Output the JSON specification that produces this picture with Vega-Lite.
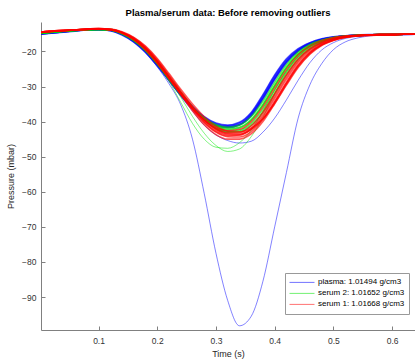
{
  "$schema": "https://vega.github.io/schema/vega-lite/v6.json",
  "width": 374,
  "height": 308,
  "autosize": {"type": "none"},
  "padding": {"left": 41, "top": 22, "right": 0, "bottom": 30},
  "background": "white",
  "config": {
    "view": {"stroke": null},
    "font": "Liberation Sans",
    "axis": {
      "grid": false,
      "domainColor": "#808080",
      "domainWidth": 1,
      "tickColor": "#808080",
      "tickWidth": 1,
      "tickSize": -4,
      "labelFont": "Liberation Sans",
      "labelFontSize": 8.5,
      "labelColor": "#333333",
      "titleFont": "Liberation Sans",
      "titleFontSize": 9,
      "titleFontWeight": "normal",
      "titleColor": "#262626"
    }
  },
  "title": {
    "text": "Plasma/serum data: Before removing outliers",
    "font": "Liberation Sans",
    "fontSize": 9.5,
    "fontWeight": "bold",
    "color": "#000000",
    "anchor": "middle",
    "offset": 5
  },
  "datasets": {
    "plasma": [
      {"t":0.00,"b1":-14.9,"b2":-15.0,"b3":-15.1,"b4":-14.8,"b5":-15.0},
      {"t":0.02,"b1":-14.6,"b2":-14.7,"b3":-14.8,"b4":-14.5,"b5":-14.7},
      {"t":0.04,"b1":-14.3,"b2":-14.4,"b3":-14.5,"b4":-14.3,"b5":-14.4},
      {"t":0.06,"b1":-14.0,"b2":-14.1,"b3":-14.2,"b4":-14.0,"b5":-14.1},
      {"t":0.08,"b1":-13.8,"b2":-13.9,"b3":-13.9,"b4":-13.8,"b5":-13.9},
      {"t":0.10,"b1":-13.7,"b2":-13.8,"b3":-13.8,"b4":-13.7,"b5":-13.8},
      {"t":0.12,"b1":-13.9,"b2":-14.1,"b3":-14.0,"b4":-13.9,"b5":-14.0},
      {"t":0.14,"b1":-15.0,"b2":-15.3,"b3":-15.1,"b4":-15.0,"b5":-15.2},
      {"t":0.16,"b1":-16.9,"b2":-17.3,"b3":-17.1,"b4":-16.8,"b5":-17.2},
      {"t":0.18,"b1":-19.8,"b2":-20.3,"b3":-20.0,"b4":-19.6,"b5":-20.1},
      {"t":0.20,"b1":-23.6,"b2":-24.1,"b3":-23.8,"b4":-23.4,"b5":-24.0},
      {"t":0.22,"b1":-27.8,"b2":-28.3,"b3":-28.0,"b4":-27.6,"b5":-28.2},
      {"t":0.24,"b1":-32.0,"b2":-32.5,"b3":-32.2,"b4":-31.8,"b5":-32.4},
      {"t":0.26,"b1":-35.8,"b2":-36.3,"b3":-36.0,"b4":-35.6,"b5":-36.2},
      {"t":0.28,"b1":-38.8,"b2":-39.3,"b3":-39.0,"b4":-38.6,"b5":-39.2},
      {"t":0.30,"b1":-40.6,"b2":-41.1,"b3":-40.8,"b4":-40.4,"b5":-41.0},
      {"t":0.32,"b1":-41.2,"b2":-41.7,"b3":-41.4,"b4":-41.0,"b5":-41.6},
      {"t":0.34,"b1":-40.4,"b2":-41.0,"b3":-40.8,"b4":-40.2,"b5":-40.9},
      {"t":0.36,"b1":-37.6,"b2":-38.4,"b3":-38.0,"b4":-37.4,"b5":-38.2},
      {"t":0.38,"b1":-32.6,"b2":-33.6,"b3":-33.1,"b4":-32.3,"b5":-33.3},
      {"t":0.40,"b1":-27.0,"b2":-28.0,"b3":-27.5,"b4":-26.7,"b5":-27.8},
      {"t":0.42,"b1":-22.4,"b2":-23.2,"b3":-22.8,"b4":-22.1,"b5":-23.0},
      {"t":0.44,"b1":-19.4,"b2":-19.9,"b3":-19.6,"b4":-19.2,"b5":-19.8},
      {"t":0.46,"b1":-17.6,"b2":-17.9,"b3":-17.7,"b4":-17.5,"b5":-17.8},
      {"t":0.48,"b1":-16.5,"b2":-16.7,"b3":-16.6,"b4":-16.4,"b5":-16.6},
      {"t":0.50,"b1":-15.9,"b2":-16.0,"b3":-16.0,"b4":-15.8,"b5":-16.0},
      {"t":0.52,"b1":-15.6,"b2":-15.6,"b3":-15.6,"b4":-15.5,"b5":-15.6},
      {"t":0.54,"b1":-15.4,"b2":-15.4,"b3":-15.4,"b4":-15.3,"b5":-15.4},
      {"t":0.56,"b1":-15.3,"b2":-15.3,"b3":-15.3,"b4":-15.2,"b5":-15.3},
      {"t":0.58,"b1":-15.2,"b2":-15.2,"b3":-15.2,"b4":-15.2,"b5":-15.2},
      {"t":0.60,"b1":-15.2,"b2":-15.2,"b3":-15.2,"b4":-15.1,"b5":-15.2},
      {"t":0.62,"b1":-15.1,"b2":-15.2,"b3":-15.1,"b4":-15.1,"b5":-15.1},
      {"t":0.64,"b1":-15.1,"b2":-15.1,"b3":-15.1,"b4":-15.1,"b5":-15.1}
    ],
    "plasma_outliers": [
      {"t":0.00,"b6":-15.0,"b7":-15.1},
      {"t":0.02,"b6":-14.7,"b7":-14.8},
      {"t":0.04,"b6":-14.4,"b7":-14.5},
      {"t":0.06,"b6":-14.1,"b7":-14.2},
      {"t":0.08,"b6":-13.9,"b7":-13.9},
      {"t":0.10,"b6":-13.8,"b7":-13.8},
      {"t":0.12,"b6":-14.0,"b7":-14.0},
      {"t":0.14,"b6":-15.2,"b7":-15.1},
      {"t":0.16,"b6":-17.3,"b7":-17.1},
      {"t":0.18,"b6":-20.3,"b7":-20.0},
      {"t":0.20,"b6":-24.4,"b7":-23.9},
      {"t":0.22,"b6":-29.2,"b7":-28.4},
      {"t":0.24,"b6":-35.2,"b7":-32.8},
      {"t":0.26,"b6":-45.0,"b7":-37.0},
      {"t":0.28,"b6":-60.5,"b7":-41.0},
      {"t":0.30,"b6":-77.5,"b7":-43.8},
      {"t":0.32,"b6":-91.0,"b7":-45.4},
      {"t":0.34,"b6":-98.2,"b7":-46.1},
      {"t":0.36,"b6":-95.5,"b7":-45.6},
      {"t":0.38,"b6":-85.5,"b7":-43.0},
      {"t":0.40,"b6":-70.0,"b7":-39.0},
      {"t":0.42,"b6":-54.5,"b7":-33.8},
      {"t":0.44,"b6":-39.0,"b7":-28.2},
      {"t":0.46,"b6":-29.5,"b7":-23.2},
      {"t":0.48,"b6":-23.5,"b7":-19.6},
      {"t":0.50,"b6":-19.5,"b7":-17.5},
      {"t":0.52,"b6":-17.3,"b7":-16.3},
      {"t":0.54,"b6":-16.2,"b7":-15.7},
      {"t":0.56,"b6":-15.6,"b7":-15.4},
      {"t":0.58,"b6":-15.3,"b7":-15.3},
      {"t":0.60,"b6":-15.2,"b7":-15.2},
      {"t":0.62,"b6":-15.1,"b7":-15.1},
      {"t":0.64,"b6":-15.1,"b7":-15.1}
    ],
    "serum2": [
      {"t":0.00,"g1":-14.8,"g2":-14.9,"g3":-14.8,"g4":-14.8,"g5":-14.7},
      {"t":0.02,"g1":-14.5,"g2":-14.6,"g3":-14.5,"g4":-14.5,"g5":-14.4},
      {"t":0.04,"g1":-14.2,"g2":-14.3,"g3":-14.2,"g4":-14.2,"g5":-14.2},
      {"t":0.06,"g1":-14.0,"g2":-14.0,"g3":-14.0,"g4":-14.0,"g5":-13.9},
      {"t":0.08,"g1":-13.8,"g2":-13.8,"g3":-13.8,"g4":-13.8,"g5":-13.7},
      {"t":0.10,"g1":-13.7,"g2":-13.7,"g3":-13.7,"g4":-13.7,"g5":-13.6},
      {"t":0.12,"g1":-13.9,"g2":-13.9,"g3":-13.8,"g4":-13.9,"g5":-13.7},
      {"t":0.14,"g1":-14.9,"g2":-15.0,"g3":-14.8,"g4":-14.9,"g5":-14.7},
      {"t":0.16,"g1":-16.7,"g2":-16.9,"g3":-16.5,"g4":-16.8,"g5":-16.4},
      {"t":0.18,"g1":-19.5,"g2":-19.8,"g3":-19.3,"g4":-19.6,"g5":-19.1},
      {"t":0.20,"g1":-23.3,"g2":-23.6,"g3":-23.0,"g4":-23.4,"g5":-22.8},
      {"t":0.22,"g1":-27.6,"g2":-27.9,"g3":-27.3,"g4":-27.7,"g5":-27.1},
      {"t":0.24,"g1":-31.9,"g2":-32.1,"g3":-31.7,"g4":-32.0,"g5":-31.6},
      {"t":0.26,"g1":-35.9,"g2":-35.9,"g3":-35.9,"g4":-35.9,"g5":-35.9},
      {"t":0.28,"g1":-39.2,"g2":-39.0,"g3":-39.4,"g4":-39.1,"g5":-39.5},
      {"t":0.30,"g1":-41.4,"g2":-40.9,"g3":-41.8,"g4":-41.2,"g5":-42.0},
      {"t":0.32,"g1":-42.3,"g2":-41.6,"g3":-42.8,"g4":-42.0,"g5":-43.0},
      {"t":0.34,"g1":-41.8,"g2":-41.0,"g3":-42.5,"g4":-41.6,"g5":-42.9},
      {"t":0.36,"g1":-39.6,"g2":-38.6,"g3":-40.5,"g4":-39.4,"g5":-41.1},
      {"t":0.38,"g1":-35.3,"g2":-34.2,"g3":-36.4,"g4":-35.1,"g5":-37.3},
      {"t":0.40,"g1":-29.8,"g2":-28.8,"g3":-31.0,"g4":-29.7,"g5":-32.0},
      {"t":0.42,"g1":-24.6,"g2":-23.8,"g3":-25.7,"g4":-24.6,"g5":-26.6},
      {"t":0.44,"g1":-20.7,"g2":-20.2,"g3":-21.5,"g4":-20.8,"g5":-22.2},
      {"t":0.46,"g1":-18.3,"g2":-18.0,"g3":-18.8,"g4":-18.4,"g5":-19.3},
      {"t":0.48,"g1":-16.9,"g2":-16.8,"g3":-17.2,"g4":-17.0,"g5":-17.5},
      {"t":0.50,"g1":-16.1,"g2":-16.0,"g3":-16.3,"g4":-16.2,"g5":-16.5},
      {"t":0.52,"g1":-15.7,"g2":-15.6,"g3":-15.8,"g4":-15.7,"g5":-15.9},
      {"t":0.54,"g1":-15.4,"g2":-15.4,"g3":-15.5,"g4":-15.4,"g5":-15.5},
      {"t":0.56,"g1":-15.3,"g2":-15.3,"g3":-15.3,"g4":-15.3,"g5":-15.3},
      {"t":0.58,"g1":-15.2,"g2":-15.2,"g3":-15.2,"g4":-15.2,"g5":-15.2},
      {"t":0.60,"g1":-15.2,"g2":-15.2,"g3":-15.2,"g4":-15.2,"g5":-15.2},
      {"t":0.62,"g1":-15.1,"g2":-15.1,"g3":-15.1,"g4":-15.1,"g5":-15.1},
      {"t":0.64,"g1":-15.1,"g2":-15.1,"g3":-15.1,"g4":-15.1,"g5":-15.1}
    ],
    "serum2_outliers": [
      {"t":0.00,"g6":-14.9,"g7":-14.8},
      {"t":0.02,"g6":-14.6,"g7":-14.5},
      {"t":0.04,"g6":-14.3,"g7":-14.2},
      {"t":0.06,"g6":-14.0,"g7":-14.0},
      {"t":0.08,"g6":-13.8,"g7":-13.8},
      {"t":0.10,"g6":-13.7,"g7":-13.7},
      {"t":0.12,"g6":-13.9,"g7":-13.9},
      {"t":0.14,"g6":-15.0,"g7":-14.9},
      {"t":0.16,"g6":-16.9,"g7":-16.8},
      {"t":0.18,"g6":-19.8,"g7":-19.6},
      {"t":0.20,"g6":-23.6,"g7":-23.4},
      {"t":0.22,"g6":-28.5,"g7":-28.0},
      {"t":0.24,"g6":-34.5,"g7":-33.0},
      {"t":0.26,"g6":-40.5,"g7":-38.5},
      {"t":0.28,"g6":-45.0,"g7":-43.3},
      {"t":0.30,"g6":-47.3,"g7":-46.8},
      {"t":0.32,"g6":-47.6,"g7":-48.5},
      {"t":0.34,"g6":-46.0,"g7":-47.8},
      {"t":0.36,"g6":-42.5,"g7":-44.3},
      {"t":0.38,"g6":-37.0,"g7":-38.8},
      {"t":0.40,"g6":-31.0,"g7":-32.0},
      {"t":0.42,"g6":-25.5,"g7":-26.0},
      {"t":0.44,"g6":-21.3,"g7":-21.5},
      {"t":0.46,"g6":-18.6,"g7":-18.7},
      {"t":0.48,"g6":-17.1,"g7":-17.1},
      {"t":0.50,"g6":-16.2,"g7":-16.2},
      {"t":0.52,"g6":-15.7,"g7":-15.7},
      {"t":0.54,"g6":-15.4,"g7":-15.4},
      {"t":0.56,"g6":-15.3,"g7":-15.3},
      {"t":0.58,"g6":-15.2,"g7":-15.2},
      {"t":0.60,"g6":-15.2,"g7":-15.2},
      {"t":0.62,"g6":-15.1,"g7":-15.1},
      {"t":0.64,"g6":-15.1,"g7":-15.1}
    ],
    "serum1": [
      {"t":0.00,"r1":-14.6,"r2":-14.5,"r3":-14.6,"r4":-14.5,"r5":-14.6,"r6":-14.5,"r7":-14.6,"r8":-14.5},
      {"t":0.02,"r1":-14.3,"r2":-14.2,"r3":-14.3,"r4":-14.2,"r5":-14.3,"r6":-14.2,"r7":-14.3,"r8":-14.2},
      {"t":0.04,"r1":-14.1,"r2":-14.0,"r3":-14.1,"r4":-14.0,"r5":-14.1,"r6":-14.0,"r7":-14.1,"r8":-14.0},
      {"t":0.06,"r1":-13.9,"r2":-13.8,"r3":-13.9,"r4":-13.8,"r5":-13.9,"r6":-13.8,"r7":-13.9,"r8":-13.8},
      {"t":0.08,"r1":-13.7,"r2":-13.7,"r3":-13.7,"r4":-13.6,"r5":-13.7,"r6":-13.6,"r7":-13.7,"r8":-13.6},
      {"t":0.10,"r1":-13.6,"r2":-13.6,"r3":-13.6,"r4":-13.5,"r5":-13.6,"r6":-13.5,"r7":-13.6,"r8":-13.5},
      {"t":0.12,"r1":-13.8,"r2":-13.8,"r3":-13.8,"r4":-13.7,"r5":-13.7,"r6":-13.7,"r7":-13.8,"r8":-13.6},
      {"t":0.14,"r1":-14.8,"r2":-14.7,"r3":-14.7,"r4":-14.6,"r5":-14.6,"r6":-14.5,"r7":-14.7,"r8":-14.4},
      {"t":0.16,"r1":-16.7,"r2":-16.5,"r3":-16.4,"r4":-16.3,"r5":-16.3,"r6":-16.1,"r7":-16.5,"r8":-16.0},
      {"t":0.18,"r1":-19.6,"r2":-19.3,"r3":-19.1,"r4":-19.0,"r5":-19.0,"r6":-18.7,"r7":-19.3,"r8":-18.5},
      {"t":0.20,"r1":-23.4,"r2":-23.1,"r3":-22.8,"r4":-22.7,"r5":-22.8,"r6":-22.3,"r7":-23.1,"r8":-22.0},
      {"t":0.22,"r1":-27.8,"r2":-27.5,"r3":-27.2,"r4":-27.2,"r5":-27.4,"r6":-26.7,"r7":-27.6,"r8":-26.3},
      {"t":0.24,"r1":-32.1,"r2":-31.9,"r3":-31.7,"r4":-31.8,"r5":-32.2,"r6":-31.3,"r7":-32.2,"r8":-30.8},
      {"t":0.26,"r1":-36.0,"r2":-36.0,"r3":-36.0,"r4":-36.3,"r5":-36.9,"r6":-35.7,"r7":-36.5,"r8":-35.0},
      {"t":0.28,"r1":-39.4,"r2":-39.5,"r3":-39.7,"r4":-40.2,"r5":-40.9,"r6":-39.4,"r7":-40.2,"r8":-38.6},
      {"t":0.30,"r1":-41.7,"r2":-42.0,"r3":-42.4,"r4":-43.0,"r5":-43.7,"r6":-42.1,"r7":-42.8,"r8":-41.3},
      {"t":0.32,"r1":-42.6,"r2":-43.2,"r3":-43.7,"r4":-44.3,"r5":-45.0,"r6":-43.4,"r7":-44.0,"r8":-42.7},
      {"t":0.34,"r1":-42.2,"r2":-43.1,"r3":-43.8,"r4":-44.4,"r5":-45.0,"r6":-43.5,"r7":-43.8,"r8":-42.9},
      {"t":0.36,"r1":-40.0,"r2":-41.2,"r3":-42.2,"r4":-42.9,"r5":-43.5,"r6":-42.3,"r7":-41.9,"r8":-41.9},
      {"t":0.38,"r1":-35.8,"r2":-37.3,"r3":-38.6,"r4":-39.4,"r5":-40.0,"r6":-39.2,"r7":-38.0,"r8":-39.2},
      {"t":0.40,"r1":-30.4,"r2":-32.0,"r3":-33.4,"r4":-34.3,"r5":-34.9,"r6":-34.4,"r7":-32.7,"r8":-34.8},
      {"t":0.42,"r1":-25.1,"r2":-26.6,"r3":-27.9,"r4":-28.8,"r5":-29.3,"r6":-29.0,"r7":-27.2,"r8":-29.6},
      {"t":0.44,"r1":-21.0,"r2":-22.1,"r3":-23.1,"r4":-23.8,"r5":-24.3,"r6":-24.0,"r7":-22.6,"r8":-24.6},
      {"t":0.46,"r1":-18.4,"r2":-19.1,"r3":-19.8,"r4":-20.3,"r5":-20.6,"r6":-20.3,"r7":-19.4,"r8":-20.8},
      {"t":0.48,"r1":-16.9,"r2":-17.3,"r3":-17.7,"r4":-18.0,"r5":-18.2,"r6":-18.0,"r7":-17.5,"r8":-18.3},
      {"t":0.50,"r1":-16.0,"r2":-16.3,"r3":-16.5,"r4":-16.7,"r5":-16.8,"r6":-16.7,"r7":-16.4,"r8":-16.9},
      {"t":0.52,"r1":-15.6,"r2":-15.7,"r3":-15.8,"r4":-15.9,"r5":-16.0,"r6":-15.9,"r7":-15.8,"r8":-16.0},
      {"t":0.54,"r1":-15.4,"r2":-15.4,"r3":-15.5,"r4":-15.5,"r5":-15.6,"r6":-15.5,"r7":-15.5,"r8":-15.6},
      {"t":0.56,"r1":-15.3,"r2":-15.3,"r3":-15.3,"r4":-15.3,"r5":-15.4,"r6":-15.3,"r7":-15.3,"r8":-15.4},
      {"t":0.58,"r1":-15.2,"r2":-15.2,"r3":-15.2,"r4":-15.2,"r5":-15.3,"r6":-15.2,"r7":-15.2,"r8":-15.2},
      {"t":0.60,"r1":-15.2,"r2":-15.2,"r3":-15.2,"r4":-15.2,"r5":-15.2,"r6":-15.2,"r7":-15.2,"r8":-15.2},
      {"t":0.62,"r1":-15.1,"r2":-15.1,"r3":-15.1,"r4":-15.1,"r5":-15.1,"r6":-15.1,"r7":-15.1,"r8":-15.1},
      {"t":0.64,"r1":-15.1,"r2":-15.1,"r3":-15.1,"r4":-15.1,"r5":-15.1,"r6":-15.1,"r7":-15.1,"r8":-15.1}
    ]
  },
  "encoding": {
    "x": {
      "field": "t",
      "type": "quantitative",
      "scale": {"domain": [0.002, 0.639], "nice": false, "zero": false},
      "axis": {
        "title": "Time (s)",
        "values": [0.1, 0.2, 0.3, 0.4, 0.5, 0.6],
        "format": ".1f",
        "labelPadding": 10,
        "titlePadding": 5
      }
    },
    "y": {
      "field": "p",
      "type": "quantitative",
      "scale": {"domain": [-99.4, -11.6], "nice": false, "zero": false},
      "axis": {
        "title": "Pressure (mbar)",
        "values": [-90, -80, -70, -60, -50, -40, -30, -20],
        "labelPadding": 9,
        "titlePadding": 6
      }
    }
  },
  "layer": [
    {
      "data": {"name": "plasma"},
      "transform": [{"fold": ["b1", "b2", "b3", "b4", "b5"], "as": ["run", "p"]}],
      "mark": {"type": "line", "interpolate": "monotone", "strokeWidth": 1.6, "opacity": 0.65, "clip": true},
      "encoding": {
        "detail": {"field": "run", "type": "nominal"},
        "color": {
          "datum": "plasma: 1.01494 g/cm3",
          "type": "nominal",
          "scale": {
            "domain": ["plasma: 1.01494 g/cm3", "serum 2: 1.01652 g/cm3", "serum 1: 1.01668 g/cm3"],
            "range": ["#0000ff", "#00e600", "#ff0000"]
          },
          "legend": {
            "orient": "none",
            "legendX": 244,
            "legendY": 251,
            "title": null,
            "symbolType": "stroke",
            "symbolSize": 625,
            "symbolStrokeWidth": 1,
            "symbolOpacity": 0.4,
            "clipHeight": 10.8,
            "labelFont": "Liberation Sans",
            "labelFontSize": 8,
            "labelColor": "#000000",
            "labelOffset": 3,
            "fillColor": "#ffffff",
            "strokeColor": "#999999",
            "padding": 4,
            "rowPadding": 0
          }
        }
      }
    },
    {
      "data": {"name": "plasma_outliers"},
      "transform": [{"fold": ["b6", "b7"], "as": ["run", "p"]}],
      "mark": {"type": "line", "interpolate": "monotone", "strokeWidth": 0.9, "opacity": 0.55, "clip": true},
      "encoding": {
        "detail": {"field": "run", "type": "nominal"},
        "color": {"datum": "plasma: 1.01494 g/cm3", "type": "nominal"}
      }
    },
    {
      "data": {"name": "serum2"},
      "transform": [{"fold": ["g1", "g2", "g3", "g4", "g5"], "as": ["run", "p"]}],
      "mark": {"type": "line", "interpolate": "monotone", "strokeWidth": 1.6, "opacity": 0.65, "clip": true},
      "encoding": {
        "detail": {"field": "run", "type": "nominal"},
        "color": {"datum": "serum 2: 1.01652 g/cm3", "type": "nominal"}
      }
    },
    {
      "data": {"name": "serum2_outliers"},
      "transform": [{"fold": ["g6", "g7"], "as": ["run", "p"]}],
      "mark": {"type": "line", "interpolate": "monotone", "strokeWidth": 0.9, "opacity": 0.55, "clip": true},
      "encoding": {
        "detail": {"field": "run", "type": "nominal"},
        "color": {"datum": "serum 2: 1.01652 g/cm3", "type": "nominal"}
      }
    },
    {
      "data": {"name": "serum1"},
      "transform": [{"fold": ["r1", "r2", "r3", "r4", "r5", "r6", "r7", "r8"], "as": ["run", "p"]}],
      "mark": {"type": "line", "interpolate": "monotone", "strokeWidth": 1.6, "opacity": 0.65, "clip": true},
      "encoding": {
        "detail": {"field": "run", "type": "nominal"},
        "color": {"datum": "serum 1: 1.01668 g/cm3", "type": "nominal"}
      }
    }
  ]
}
